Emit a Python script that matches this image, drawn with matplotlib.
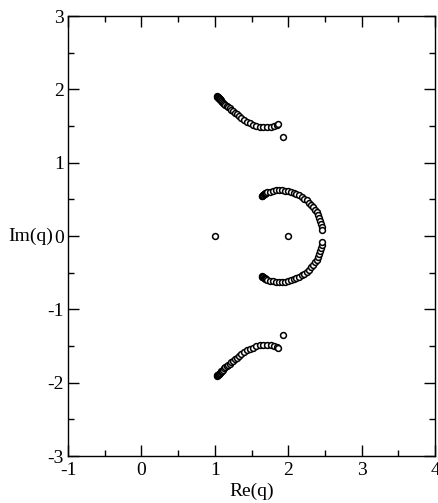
import matplotlib
matplotlib.use('Agg')
import matplotlib.pyplot as plt
from matplotlib.ticker import MultipleLocator, FixedLocator

plt.rcParams['font.family'] = ['Liberation Serif', 'DejaVu Serif']

# Upper arc (lower arc is its mirror image)
upper_x = [1.03, 1.035, 1.04, 1.045, 1.05, 1.055, 1.06, 1.065, 1.07, 1.08,
           1.09, 1.10, 1.115, 1.13, 1.145, 1.16, 1.18, 1.20, 1.22, 1.245,
           1.27, 1.30, 1.33, 1.36, 1.40, 1.44, 1.48, 1.52, 1.56, 1.61,
           1.66, 1.71, 1.76, 1.80, 1.84, 1.86]
upper_y = [1.905, 1.90, 1.895, 1.89, 1.885, 1.88, 1.875, 1.87, 1.865, 1.855,
           1.845, 1.834, 1.82, 1.806, 1.792, 1.778, 1.76, 1.742, 1.724, 1.703,
           1.682, 1.658, 1.635, 1.612, 1.585, 1.56, 1.54, 1.52, 1.505, 1.492,
           1.485, 1.485, 1.49, 1.50, 1.515, 1.525]

# Right "C" arc, upper half (lower half mirrored)
c_x = [1.64, 1.645, 1.65, 1.655, 1.66, 1.668, 1.678, 1.69, 1.703, 1.717,
       1.747, 1.788, 1.829, 1.870, 1.911, 1.952, 1.993, 2.033, 2.072, 2.111,
       2.148, 2.184, 2.219, 2.251, 2.282, 2.311, 2.338, 2.363, 2.386, 2.406,
       2.423, 2.438, 2.450, 2.459, 2.466]
c_y = [0.548, 0.552, 0.556, 0.560, 0.564, 0.570, 0.576, 0.583, 0.590, 0.597,
       0.607, 0.616, 0.622, 0.625, 0.624, 0.620, 0.614, 0.604, 0.591, 0.575,
       0.557, 0.536, 0.512, 0.486, 0.457, 0.426, 0.393, 0.359, 0.322, 0.284,
       0.244, 0.204, 0.162, 0.119, 0.076]

# isolated points
iso_x = [1.0, 2.0, 1.93, 1.93]
iso_y = [0.0, 0.0, 1.35, -1.35]

fig = plt.figure(figsize=(4.39, 5.03), dpi=100)
ax = fig.add_axes([0.155, 0.0934, 0.836, 0.8746])

mk = dict(ls='none', marker='o', mfc='white', mec='black', ms=4.2, mew=1.1)
ax.plot(upper_x, upper_y, **mk)
ax.plot(upper_x, [-v for v in upper_y], **mk)
ax.plot(c_x, c_y, **mk)
ax.plot(c_x, [-v for v in c_y], **mk)
ax.plot(iso_x, iso_y, **mk)

ax.set_xlim(-1, 4)
ax.set_ylim(-3, 3)
xt = [-1, 0, 1, 2, 3, 4]
yt = [-3, -2, -1, 0, 1, 2, 3]
ax.xaxis.set_major_locator(FixedLocator(xt))
ax.yaxis.set_major_locator(FixedLocator(yt))
ax.set_xticklabels([str(v) for v in xt])
ax.set_yticklabels([str(v) for v in yt])
ax.xaxis.set_minor_locator(MultipleLocator(0.5))
ax.yaxis.set_minor_locator(MultipleLocator(0.5))
ax.tick_params(which='both', direction='in', top=True, right=True,
               labelsize=14, width=1.0)
ax.tick_params(which='major', length=8)
ax.tick_params(which='minor', length=4)
ax.tick_params(axis='x', pad=4)
ax.tick_params(axis='y', pad=3)
for s in ax.spines.values():
    s.set_linewidth(1.0)

ax.set_xlabel('Re(q)', fontsize=14, labelpad=3)
ax.set_ylabel('Im(q)', fontsize=14, rotation=0, ha='right', va='center')
ax.yaxis.set_label_coords(-0.04, 0.5)

fig.savefig('out.png', dpi=100)
